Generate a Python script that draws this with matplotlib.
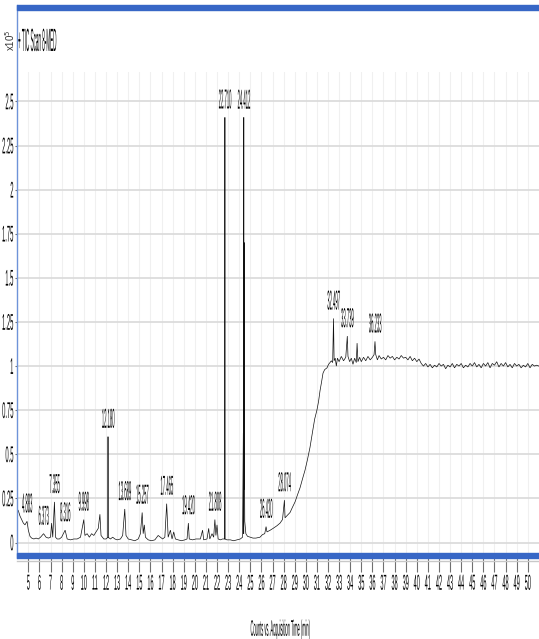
import matplotlib.pyplot as plt
from matplotlib.patches import Rectangle
from matplotlib.lines import Line2D
from matplotlib.patheffects import AbstractPathEffect
from matplotlib.transforms import Affine2D

plt.rcParams['font.family'] = ['Liberation Sans', 'DejaVu Sans']
plt.rcParams['path.simplify'] = False

# TIC trace: acquisition time (min) and counts (x10^5)
rt = [
    4.0, 4.1, 4.25, 4.4, 4.55, 4.7, 4.883, 5.0, 5.15, 5.3, 5.5, 5.7, 5.9, 6.1,
    6.373, 6.6, 6.8, 7.0, 7.1, 7.2, 7.355, 7.45, 7.6, 7.8, 8.0, 8.316, 8.5,
    8.8, 9.1, 9.4, 9.7, 9.998, 10.1, 10.3, 10.5, 10.7, 10.9, 11.1, 11.3,
    11.45, 11.55, 11.8, 12.0, 12.180, 12.180, 12.180, 12.4, 12.6, 12.8, 13.0,
    13.3, 13.5, 13.689, 13.8, 14.0, 14.3, 14.6, 14.9, 15.1, 15.257, 15.35,
    15.45, 15.55, 15.8, 16.1, 16.4, 16.7, 16.9, 17.1, 17.3, 17.465, 17.6,
    17.8, 17.95, 18.1, 18.25, 18.5, 18.8, 19.1, 19.3, 19.420, 19.5, 19.8,
    20.1, 20.5, 20.7, 20.8, 21.1, 21.25, 21.35, 21.55, 21.7, 21.808, 21.9,
    22.0, 22.1, 22.3, 22.5, 22.710, 22.710, 22.710, 22.9, 23.2, 23.5, 23.8,
    24.1, 24.3, 24.37, 24.40, 24.412, 24.412, 24.412, 24.45, 24.47, 24.50, 24.6,
    24.75, 25.0, 25.24, 25.5, 25.87, 26.1, 26.3, 26.420, 26.5, 26.8, 27.05,
    27.4, 27.68, 27.9, 28.074, 28.13, 28.35, 28.58, 28.8, 29.03, 29.25,
    29.48, 29.7, 29.93, 30.15, 30.38, 30.64, 30.8, 31.0, 31.15, 31.28,
    31.42, 31.55, 31.7, 31.91, 32.05, 32.18, 32.3, 32.42, 32.497, 32.55,
    32.65, 32.75, 32.85, 33.0, 33.2, 33.4, 33.6, 33.739, 33.8, 33.95, 34.1,
    34.25, 34.4, 34.55, 34.62, 34.7, 34.85, 35.0, 35.2, 35.4, 35.6, 35.8,
    36.0, 36.15, 36.233, 36.3, 36.45,
    36.6, 36.8, 37.0, 37.2, 37.4, 37.6, 37.8, 38.0, 38.2, 38.4, 38.6, 38.8,
    39.0, 39.2, 39.4, 39.6, 39.8, 40.0, 40.2, 40.4, 40.6, 40.8, 41.0, 41.2,
    41.4, 41.6, 41.8, 42.0, 42.2, 42.4, 42.6, 42.8, 43.0, 43.2, 43.4, 43.6,
    43.8, 44.0, 44.2, 44.4, 44.6, 44.8, 45.0, 45.2, 45.4, 45.6, 45.8, 46.0,
    46.2, 46.4, 46.6, 46.8, 47.0, 47.2, 47.4, 47.6, 47.8, 48.0, 48.2, 48.4,
    48.6, 48.8, 49.0, 49.2, 49.4, 49.6, 49.8, 50.0, 50.2, 50.4, 50.6, 50.8,
    51.0,
]
counts = [
    0.19, 0.18, 0.15, 0.13, 0.11, 0.10, 0.12, 0.07, 0.035, 0.025, 0.02, 0.025, 0.02, 0.03,
    0.05, 0.03, 0.025, 0.03, 0.11, 0.03, 0.23, 0.03, 0.02, 0.02, 0.03, 0.07, 0.02,
    0.015, 0.02, 0.02, 0.03, 0.13, 0.04, 0.05, 0.03, 0.05, 0.04, 0.06, 0.08,
    0.16, 0.04, 0.02, 0.02, 0.03, 0.60, 0.03, 0.02, 0.03, 0.02, 0.015,
    0.02, 0.04, 0.19, 0.04, 0.02, 0.015, 0.01, 0.02, 0.05, 0.17, 0.05,
    0.10, 0.03, 0.015, 0.01, 0.015, 0.04, 0.03, 0.02, 0.03, 0.22, 0.03,
    0.07, 0.02, 0.06, 0.02, 0.015, 0.01, 0.015, 0.02, 0.11, 0.02, 0.015,
    0.02, 0.02, 0.07, 0.015, 0.02, 0.08, 0.02, 0.05, 0.03, 0.13, 0.04,
    0.10, 0.02, 0.015, 0.02, 0.02, 2.41, 0.02, 0.015, 0.015, 0.01, 0.015,
    0.02, 0.03, 0.62, 0.05, 0.05, 2.41, 0.30, 1.70, 0.55, 0.12, 0.05,
    0.035, 0.03, 0.025, 0.025, 0.03, 0.045, 0.05, 0.09, 0.06, 0.07, 0.08,
    0.095, 0.11, 0.13, 0.24, 0.14, 0.155, 0.17, 0.20, 0.23, 0.27,
    0.31, 0.36, 0.41, 0.47, 0.54, 0.64, 0.70, 0.75, 0.80, 0.86,
    0.91, 0.96, 0.98, 0.99, 1.01, 1.02, 1.03, 1.02, 1.27, 1.03,
    1.045, 1.00, 1.045, 1.025, 1.055, 1.03, 1.05, 1.17, 1.055, 1.025, 1.045,
    1.01, 1.045, 1.02, 1.13, 1.025, 1.05, 1.025, 1.05, 1.03, 1.055, 1.035,
    1.05, 1.065, 1.14, 1.065, 1.035,
    1.06, 1.04, 1.05, 1.035, 1.06, 1.045, 1.055, 1.035, 1.05, 1.04, 1.06, 1.045,
    1.05, 1.035, 1.055, 1.03, 1.045, 1.025, 1.04, 1.015, 1.0, 1.015, 0.995, 1.01,
    0.99, 1.005, 0.995, 1.015, 1.0, 1.01, 0.985, 1.005, 0.995, 1.015, 0.99, 1.01,
    1.0, 1.015, 0.99, 1.005, 0.995, 1.015, 1.0, 1.02, 0.995, 1.01, 0.99, 1.015,
    1.0, 1.02, 0.99, 1.015, 1.005, 1.025, 0.995, 1.015, 1.0, 1.02, 0.995, 1.01,
    0.99, 1.015, 1.0, 1.01, 0.99, 1.005, 0.995, 1.015, 0.99, 1.01, 1.0, 1.005,
    1.0,
]

# peaks marked with their retention time
labelled_rt = [4.883, 6.373, 7.355, 8.316, 9.998, 12.180, 13.689, 15.257,
               17.465, 19.420, 21.808, 22.710, 24.412, 26.420, 28.074,
               32.497, 33.739, 36.233]

x_ticks = list(range(5, 51))
y_ticks = [0, 0.25, 0.5, 0.75, 1, 1.25, 1.5, 1.75, 2, 2.25, 2.5]
y_tick_labels = ['0', '0.25', '0.5', '0.75', '1', '1.25', '1.5', '1.75', '2', '2.25', '2.5']


class Tall(AbstractPathEffect):
    """Draw text glyphs stretched vertically about their top, bottom or middle."""

    def __init__(self, factor, anchor='middle'):
        super().__init__()
        self._factor = factor
        self._anchor = anchor

    def draw_path(self, renderer, gc, tpath, affine, rgbFace=None):
        box = tpath.get_extents(affine)
        if self._anchor == 'bottom':
            py = box.y0
        elif self._anchor == 'top':
            py = box.y1
        else:
            py = (box.y0 + box.y1) / 2
        stretch = Affine2D().translate(0, -py).scale(1, self._factor).translate(0, py)
        renderer.draw_path(gc, tpath, affine + stretch, rgbFace)


W, H = 539, 639
fig = plt.figure(figsize=(W / 100, H / 100), dpi=100)

ax = fig.add_axes([17 / W, (H - 553) / H, 522 / W, (553 - 72) / H])
ax.plot(rt, counts, color='#111111', lw=0.5, solid_joinstyle='miter', zorder=3)
ax.set_xlim(3.98, 51.01)
ax.set_ylim(-0.0595, 2.667)

for s in ax.spines.values():
    s.set_visible(False)

ax.set_xticks(x_ticks)
ax.set_xticklabels([str(v) for v in x_ticks])
ax.set_yticks(y_ticks)
ax.set_yticklabels(y_tick_labels)
ax.tick_params(axis='x', length=14, width=0.8, color='#707070', pad=1.5, labelsize=4)
ax.tick_params(axis='y', length=1.5, width=0.8, color='#707070', pad=1.0, labelsize=4.2)
for lab in ax.get_xticklabels():
    lab.set_path_effects([Tall(3.9, 'top')])
for lab in ax.get_yticklabels():
    lab.set_path_effects([Tall(3.9)])

ax.grid(axis='y', color='#dcdcdc', lw=1.3)
ax.grid(axis='x', color='#f0f0f0', lw=0.8)
ax.set_axisbelow(True)

for t in labelled_rt:
    h = max(c for r, c in zip(rt, counts) if r == t)
    ax.annotate(f'{t:.3f}', (t, h), xytext=(0, 5.5), textcoords='offset points',
                ha='center', va='bottom', fontsize=3.0,
                path_effects=[Tall(6.6, 'bottom')])

# frame: blue bars top and bottom, thin blue line down the left
blue = '#3767c6'
fig.patches.append(Rectangle((17 / W, (H - 10) / H), 522 / W, 5 / H,
                             transform=fig.transFigure, color=blue, zorder=5))
fig.patches.append(Rectangle((17 / W, (H - 558) / H), 522 / W, 5 / H,
                             transform=fig.transFigure, color=blue, zorder=5))
fig.lines.append(Line2D([17 / W, 17 / W], [(H - 5) / H, (H - 558) / H],
                        transform=fig.transFigure, color='#6e93d8', lw=1.0, zorder=5))
fig.lines.append(Line2D([17 / W, 1], [(H - 560.5) / H, (H - 560.5) / H],
                        transform=fig.transFigure, color='#c8c8c8', lw=1.0, zorder=5))

fig.text(10 / W, 1 - 40 / H, r'x10$^{5}$', rotation=90, ha='center', va='center',
         fontsize=7, color='#333333')
fig.text(18 / W, 1 - 40 / H, '+ TIC Scan 8-MED', ha='left', va='center',
         fontsize=3.3, path_effects=[Tall(7)])
fig.text(280 / W, 1 - 630 / H, 'Counts vs. Acquisition Time (min)', ha='center',
         va='center', fontsize=2.9, path_effects=[Tall(5.6)])

fig.savefig('out.png', dpi=100)
